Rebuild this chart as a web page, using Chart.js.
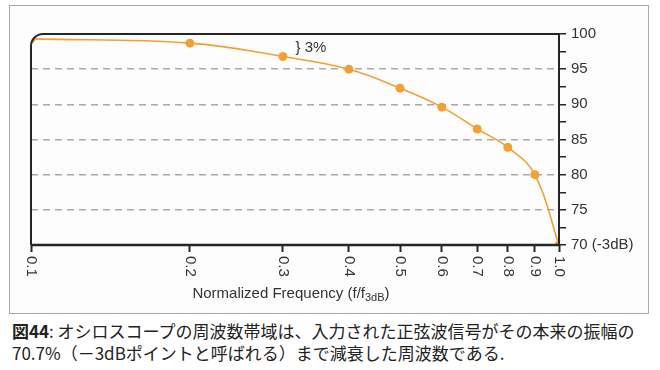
<!DOCTYPE html>
<html>
<head>
<meta charset="utf-8">
<script src="https://cdn.jsdelivr.net/npm/chart.js@4"></script>
<style>
  body { margin: 0; background: #fff; width: 660px; height: 370px; overflow: hidden; position: relative; }
  #frame { position: absolute; left: 9px; top: 5px; width: 638px; height: 307px; border: 1px solid #9eabb9; background: #fdfdfd; }
  #wrap { position: absolute; left: 0; top: 0; width: 660px; height: 312px; }
  #caption { position: absolute; left: 12px; top: 320px; font-family: "Noto Sans CJK JP", sans-serif; font-size: 17px; line-height: 22px; color: #222; white-space: nowrap; }
  #caption b { font-weight: bold; }
</style>
</head>
<body>
<div id="frame"></div>
<div id="wrap"><canvas id="my_graph" width="660" height="312"></canvas></div>
<div id="caption"><b>図44</b>: オシロスコープの周波数帯域は、入力された正弦波信号がその本来の振幅の<br>70.7%（－3dBポイントと呼ばれる）まで減衰した周波数である.</div>
<script>
// normalized frequency (f/f3dB) and amplitude in percent
let freqs = [0.1, 0.2, 0.3, 0.4, 0.5, 0.6, 0.7, 0.8, 0.9, 1.0];
let amplitude = [99.3, 98.7, 96.8, 95.0, 92.3, 89.6, 86.5, 83.9, 80.0, 70.0];
let x_ticks = [0.1, 0.2, 0.3, 0.4, 0.5, 0.6, 0.7, 0.8, 0.9, 1.0];
let x_tick_labels = ['0.1', '0.2', '0.3', '0.4', '0.5', '0.6', '0.7', '0.8', '0.9', '1.0'];
let y_label_70 = '70 (-3dB)';

const font_family = '"Liberation Sans", Arial, sans-serif';
const text_color = '#333';
const orange = '#f2a033';
const corner = 12;

function plot_path(ctx, a) {
    ctx.beginPath();
    ctx.moveTo(a.left, a.bottom);
    ctx.lineTo(a.left, a.top + corner);
    ctx.arcTo(a.left, a.top, a.left + corner, a.top, corner);
    ctx.lineTo(a.right, a.top);
    ctx.lineTo(a.right, a.bottom);
    ctx.closePath();
}

// rounded frame, rotated x labels, axis title and the 3% note
const frame_plugin = {
    id: 'frame_plugin',
    beforeDatasetsDraw(chart) {
        const ctx = chart.ctx;
        ctx.save();
        plot_path(ctx, chart.chartArea);
        ctx.clip();
    },
    afterDatasetsDraw(chart) {
        const ctx = chart.ctx;
        const a = chart.chartArea;
        ctx.restore();
        ctx.save();
        ctx.strokeStyle = '#262626';
        ctx.lineWidth = 2;
        ctx.beginPath();
        ctx.moveTo(a.left, a.bottom);
        ctx.lineTo(a.left, a.top + corner);
        ctx.arcTo(a.left, a.top, a.left + corner, a.top, corner);
        ctx.lineTo(a.right, a.top);
        ctx.lineTo(a.right, a.bottom);
        ctx.stroke();
        ctx.lineWidth = 2.5;
        ctx.beginPath();
        ctx.moveTo(a.left, a.bottom);
        ctx.lineTo(a.right + 1, a.bottom);
        ctx.stroke();

        // x labels, rotated clockwise
        const xs = chart.scales.x;
        ctx.fillStyle = text_color;
        ctx.font = '15px ' + font_family;
        ctx.textAlign = 'left';
        ctx.textBaseline = 'middle';
        x_ticks.forEach((v, i) => {
            ctx.save();
            ctx.translate(xs.getPixelForValue(v), a.bottom + 11);
            ctx.rotate(Math.PI / 2);
            ctx.fillText(x_tick_labels[i], 0, 0);
            ctx.restore();
        });

        // axis title with subscript
        const main = 'Normalized Frequency (f/f';
        const sub = '3dB';
        ctx.font = '15px ' + font_family;
        const w1 = ctx.measureText(main).width;
        const w3 = ctx.measureText(')').width;
        ctx.font = '11px ' + font_family;
        const w2 = ctx.measureText(sub).width;
        let x0 = (a.left + a.right) / 2 - 4 - (w1 + w2 + w3) / 2;
        const ty = a.bottom + 49;
        ctx.font = '15px ' + font_family;
        ctx.fillText(main, x0, ty);
        ctx.font = '11px ' + font_family;
        ctx.fillText(sub, x0 + w1, ty + 4);
        ctx.font = '15px ' + font_family;
        ctx.fillText(')', x0 + w1 + w2, ty);

        // 3% note
        const ys = chart.scales.y;
        ctx.font = '15px ' + font_family;
        ctx.fillText('} 3%', xs.getPixelForValue(0.317), ys.getPixelForValue(98.1));
        ctx.restore();
    }
};

var ctx = document.getElementById('my_graph').getContext('2d');
var my_graph = new Chart(ctx, {
    type: 'line',
    data: {
        datasets: [{
            label: 'amplitude',
            data: freqs.map((f, i) => ({x: f, y: amplitude[i]})),
            borderColor: orange,
            backgroundColor: orange,
            borderWidth: 1.6,
            pointRadius: 4.5,
            pointBorderWidth: 0,
            pointBackgroundColor: orange,
            tension: 0.4,
            fill: false
        }]
    },
    options: {
        responsive: false,
        animation: false,
        events: [],
        layout: {
            padding: {left: 31, top: 34, right: 0, bottom: 0}
        },
        plugins: {
            legend: {display: false},
            tooltip: {enabled: false}
        },
        scales: {
            x: {
                type: 'logarithmic',
                min: 0.1,
                max: 1.0,
                afterBuildTicks: scale => {
                    scale.ticks = x_ticks.map(v => ({value: v}));
                },
                afterFit: scale => { scale.height = 67; },
                ticks: {display: false},
                border: {display: false},
                grid: {
                    drawOnChartArea: false,
                    drawTicks: true,
                    tickLength: 7,
                    tickWidth: 2,
                    tickColor: '#262626'
                }
            },
            y: {
                position: 'right',
                min: 70,
                max: 100,
                afterFit: scale => { scale.width = 101; },
                ticks: {
                    stepSize: 2.5,
                    autoSkip: false,
                    padding: 5,
                    color: text_color,
                    font: {family: font_family, size: 15},
                    callback: v => v % 5 !== 0 ? '' : (v === 70 ? y_label_70 : String(v))
                },
                border: {display: false, dash: [7, 5]},
                grid: {
                    lineWidth: 1.5,
                    color: c => (c.tick && c.tick.value % 5 === 0 && c.tick.value > 70 && c.tick.value < 100) ? '#a9a9a9' : 'rgba(0,0,0,0)',
                    drawTicks: true,
                    tickLength: 7,
                    tickWidth: 1.5,
                    tickColor: '#262626'
                }
            }
        }
    },
    plugins: [frame_plugin]
});
</script>
</body>
</html>
